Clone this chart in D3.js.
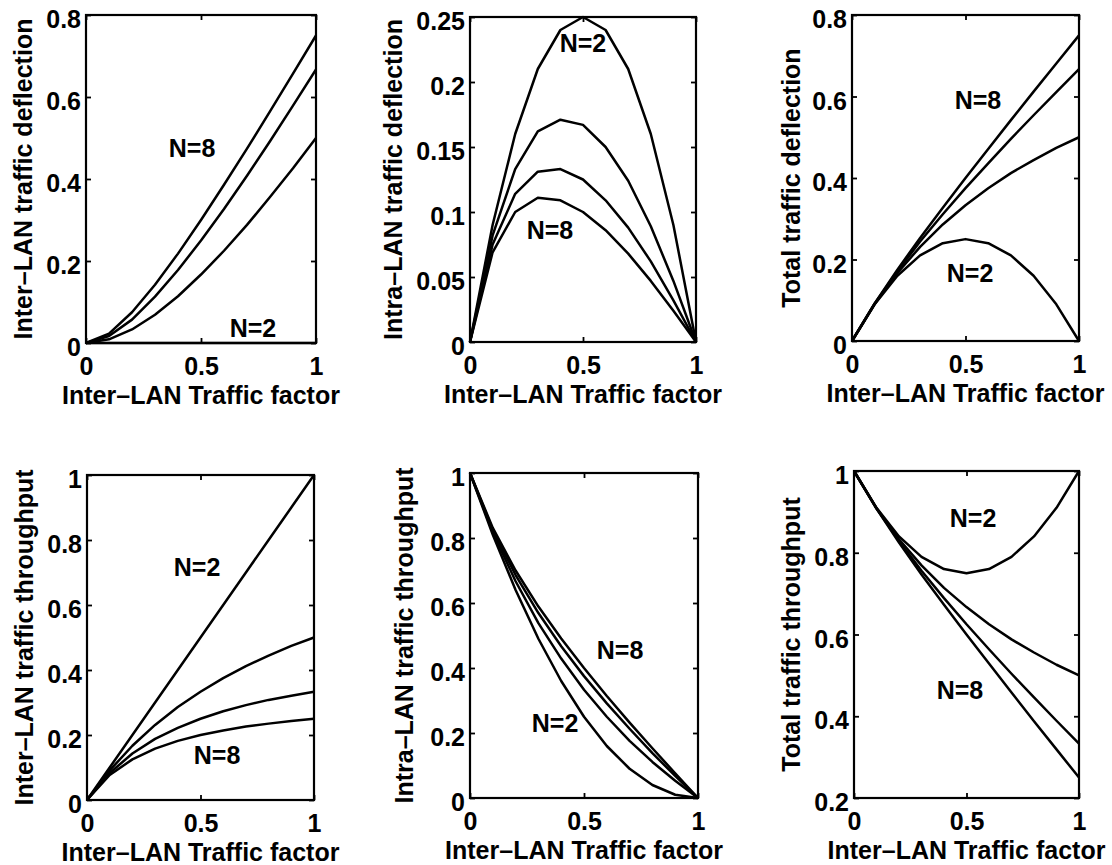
<!DOCTYPE html>
<html><head><meta charset="utf-8">
<script src="https://cdn.jsdelivr.net/npm/d3@7"></script>
<style>
html,body{margin:0;padding:0;background:#fff;}
svg{display:block;}
text{font-family:"Liberation Sans",Arial,Helvetica,sans-serif;}
</style></head><body>
<svg id="chart" width="1112" height="865"></svg>
<script>
// ---------------- data ----------------
const xFactor = [0, 0.1, 0.2, 0.3, 0.4, 0.5, 0.6, 0.7, 0.8, 0.9, 1];
const seriesNames = ["N=2", "N=4", "N=6", "N=8"];

const interDeflection = [
  [0, 0, 0, 0, 0, 0, 0, 0, 0, 0, 0],
  [0, 0.009, 0.033, 0.069, 0.114, 0.167, 0.225, 0.288, 0.356, 0.426, 0.5],
  [0, 0.017, 0.057, 0.113, 0.178, 0.25, 0.327, 0.408, 0.492, 0.579, 0.667],
  [0, 0.023, 0.075, 0.142, 0.218, 0.3, 0.386, 0.474, 0.565, 0.657, 0.75]
];
const intraDeflection = [
  [0, 0.09, 0.16, 0.21, 0.24, 0.25, 0.24, 0.21, 0.16, 0.09, 0],
  [0, 0.082, 0.133, 0.162, 0.171, 0.167, 0.15, 0.124, 0.089, 0.047, 0],
  [0, 0.075, 0.114, 0.131, 0.133, 0.125, 0.109, 0.088, 0.062, 0.032, 0],
  [0, 0.069, 0.1, 0.111, 0.109, 0.1, 0.086, 0.068, 0.047, 0.024, 0]
];
const totalDeflection = [
  [0, 0.09, 0.16, 0.21, 0.24, 0.25, 0.24, 0.21, 0.16, 0.09, 0],
  [0, 0.091, 0.167, 0.231, 0.286, 0.333, 0.375, 0.412, 0.444, 0.474, 0.5],
  [0, 0.092, 0.171, 0.244, 0.311, 0.375, 0.436, 0.496, 0.554, 0.611, 0.667],
  [0, 0.092, 0.175, 0.253, 0.327, 0.4, 0.471, 0.542, 0.612, 0.681, 0.75]
];
const interThroughput = [
  [0, 0.1, 0.2, 0.3, 0.4, 0.5, 0.6, 0.7, 0.8, 0.9, 1],
  [0, 0.091, 0.167, 0.231, 0.286, 0.333, 0.375, 0.412, 0.444, 0.474, 0.5],
  [0, 0.083, 0.143, 0.188, 0.222, 0.25, 0.273, 0.292, 0.308, 0.321, 0.333],
  [0, 0.077, 0.125, 0.158, 0.182, 0.2, 0.214, 0.226, 0.235, 0.243, 0.25]
];
const intraThroughput = [
  [1, 0.81, 0.64, 0.49, 0.36, 0.25, 0.16, 0.09, 0.04, 0.01, 0],
  [1, 0.818, 0.667, 0.538, 0.429, 0.333, 0.25, 0.176, 0.111, 0.053, 0],
  [1, 0.825, 0.686, 0.569, 0.467, 0.375, 0.291, 0.213, 0.138, 0.068, 0],
  [1, 0.831, 0.7, 0.589, 0.491, 0.4, 0.314, 0.232, 0.153, 0.076, 0]
];
const totalThroughput = [
  [1, 0.91, 0.84, 0.79, 0.76, 0.75, 0.76, 0.79, 0.84, 0.91, 1],
  [1, 0.909, 0.833, 0.769, 0.714, 0.667, 0.625, 0.588, 0.556, 0.526, 0.5],
  [1, 0.908, 0.829, 0.756, 0.689, 0.625, 0.564, 0.504, 0.446, 0.389, 0.333],
  [1, 0.908, 0.825, 0.747, 0.673, 0.6, 0.529, 0.458, 0.388, 0.319, 0.25]
];

const xTicks = [0, 0.5, 1];
const yTicksDeflection = [0, 0.2, 0.4, 0.6, 0.8];
const yTicksIntraDeflection = [0, 0.05, 0.1, 0.15, 0.2, 0.25];
const yTicksThroughput = [0, 0.2, 0.4, 0.6, 0.8, 1];
const yTicksTotalThroughput = [0.2, 0.4, 0.6, 0.8, 1];

const xAxisTitle = "Inter\u2013LAN Traffic factor";
const yAxisTitles = [
  "Inter\u2013LAN traffic deflection",
  "Intra\u2013LAN traffic deflection",
  "Total traffic deflection",
  "Inter\u2013LAN traffic throughput",
  "Intra\u2013LAN traffic throughput",
  "Total traffic throughput"
];
// curve annotations (data coordinates)
const annotationText = [["N=8", "N=2"], ["N=2", "N=8"], ["N=8", "N=2"], ["N=2", "N=8"], ["N=8", "N=2"], ["N=2", "N=8"]];
const annotationX = [[0.461, 0.726], [0.5, 0.354], [0.555, 0.52], [0.485, 0.573], [0.658, 0.373], [0.529, 0.471]];
const annotationY = [[0.476, 0.037], [0.230, 0.086], [0.591, 0.167], [0.717, 0.138], [0.455, 0.231], [0.885, 0.464]];

// ---------------- layout ----------------
const panels = [
  { box: [86, 15, 316, 343],  yDomain: [0, 0.8],  yTicks: yTicksDeflection,      data: interDeflection,  yOff: 54 },
  { box: [470, 17, 696, 342], yDomain: [0, 0.25], yTicks: yTicksIntraDeflection, data: intraDeflection,  yOff: 68 },
  { box: [852, 15, 1079, 341],yDomain: [0, 0.8],  yTicks: yTicksDeflection,      data: totalDeflection,  yOff: 52 },
  { box: [87, 475, 314, 800], yDomain: [0, 1],    yTicks: yTicksThroughput,      data: interThroughput,  yOff: 54 },
  { box: [470, 473, 698, 798],yDomain: [0, 1],    yTicks: yTicksThroughput,      data: intraThroughput,  yOff: 57 },
  { box: [854, 471, 1079, 798],yDomain: [0.2, 1], yTicks: yTicksTotalThroughput, data: totalThroughput,  yOff: 54 }
];

const svg = d3.select("#chart");
const FS = 25;
const FW = "bold";
const fmt = d3.format("~g");

panels.forEach((p, i) => {
  const [l, t, r, b] = p.box;
  const x = d3.scaleLinear().domain([0, 1]).range([l, r]);
  const y = d3.scaleLinear().domain(p.yDomain).range([b, t]);
  const g = svg.append("g");

  // curves
  const line = d3.line().x((d, j) => x(xFactor[j])).y(d => y(d));
  g.selectAll("path.curve").data(p.data).join("path")
    .attr("class", "curve")
    .attr("d", d => line(d))
    .attr("fill", "none")
    .attr("stroke", "#000")
    .attr("stroke-width", 2.5)
    .attr("stroke-linejoin", "round");

  // axes (ticks inside)
  const styleAxis = sel => {
    sel.select(".domain").remove();
    sel.selectAll(".tick line").attr("stroke", "#000").attr("stroke-width", 1.8);
    sel.selectAll("text").attr("font-family", "'Liberation Sans', Arial, sans-serif")
      .attr("font-size", FS).attr("font-weight", FW).attr("fill", "#000");
  };
  g.append("g").attr("transform", `translate(0,${b})`)
    .call(d3.axisBottom(x).tickValues(xTicks).tickFormat(fmt).tickSizeInner(-5).tickSizeOuter(0).tickPadding(14))
    .call(styleAxis);
  g.append("g").attr("transform", `translate(0,${t})`)
    .call(d3.axisTop(x).tickValues(xTicks).tickFormat("").tickSizeInner(-5).tickSizeOuter(0))
    .call(styleAxis);
  g.append("g").attr("transform", `translate(${l},0)`)
    .call(d3.axisLeft(y).tickValues(p.yTicks).tickFormat(fmt).tickSizeInner(-5).tickSizeOuter(0).tickPadding(5))
    .call(styleAxis)
    .selectAll("text").attr("dy", "0.5em");
  g.append("g").attr("transform", `translate(${r},0)`)
    .call(d3.axisRight(y).tickValues(p.yTicks).tickFormat("").tickSizeInner(-5).tickSizeOuter(0))
    .call(styleAxis);

  // box
  g.append("rect").attr("x", l).attr("y", t).attr("width", r - l).attr("height", b - t)
    .attr("fill", "none").attr("stroke", "#000").attr("stroke-width", 2.2);

  const textStyle = sel => sel.attr("font-size", FS).attr("font-weight", FW).attr("fill", "#000");

  // x title
  g.append("text").attr("x", (l + r) / 2).attr("y", b + 61)
    .attr("text-anchor", "middle").text(xAxisTitle).call(textStyle);
  // y title
  g.append("text")
    .attr("transform", `translate(${l - p.yOff},${(t + b) / 2}) rotate(-90)`)
    .attr("text-anchor", "middle").text(yAxisTitles[i]).call(textStyle);

  // annotations
  annotationText[i].forEach((s, k) => {
    g.append("text").attr("x", x(annotationX[i][k])).attr("y", y(annotationY[i][k]))
      .attr("text-anchor", "middle").attr("dy", "0.36em").text(s).call(textStyle);
  });
});
</script>
</body></html>
